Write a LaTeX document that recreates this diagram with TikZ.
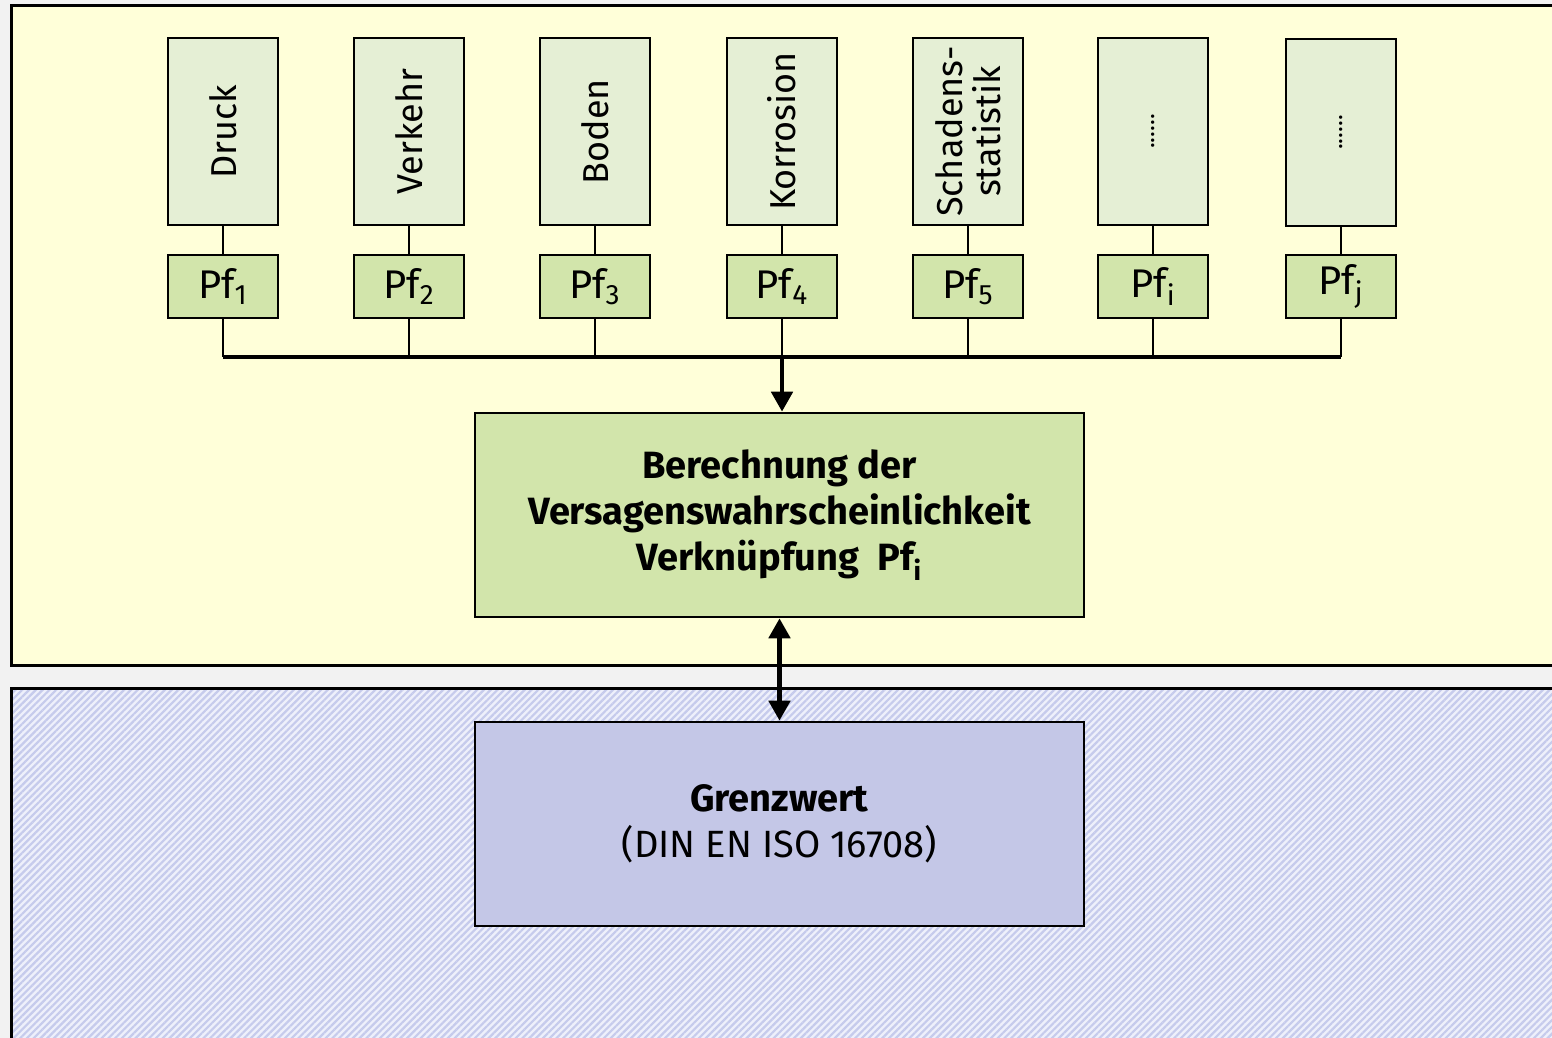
\documentclass[tikz,border=0pt]{standalone}
\usepackage{fontspec}
\setmainfont{Fira Sans}
\newfontfamily\lightfont{Fira Sans}
\usetikzlibrary{arrows.meta,patterns.meta}

\definecolor{pagegray}{HTML}{F2F2F2}
\definecolor{panelyellow}{HTML}{FFFFD9}
\definecolor{sourcegreen}{HTML}{E5EFD5}
\definecolor{pfgreen}{HTML}{D2E5AB}
\definecolor{limitblue}{HTML}{C4C7E7}
\definecolor{hatchblue}{HTML}{C6CBEC}
\definecolor{hatchwhite}{HTML}{EEF0FB}

\tikzset{
  % rotated node: width runs along the text
  source/.style={draw, line width=1.3pt, fill=sourcegreen, inner sep=0pt,
    minimum width=93.5pt, minimum height=55pt, rotate=90,
    font=\lightfont\fontsize{18}{19}\selectfont, align=center},
  pfbox/.style={draw, line width=1.3pt, fill=pfgreen, inner sep=0pt,
    minimum width=55pt, minimum height=31.5pt,
    font=\lightfont\fontsize{20}{22}\selectfont},
  bigbox/.style={draw, line width=1.3pt, inner sep=0pt,
    minimum width=304.5pt, minimum height=102pt, align=center},
  fatarrow/.style={line width=2.4pt, -{Triangle[length=10pt,width=10.5pt]}},
}

\begin{document}
\begin{tikzpicture}[x=0.5pt, y=-0.5pt]
\useasboundingbox (0,0) rectangle (1552,1038);
\clip (0,0) rectangle (1552,1038);
\fill[pagegray] (0,0) rectangle (1552,1038);

% upper panel
\draw[line width=1.5pt, fill=panelyellow] (11,6) rectangle (1570,665);

% lower panel, hatched
\fill[hatchwhite] (11,688) rectangle (1570,1060);
\fill[pattern={Lines[angle=45, distance=2.4pt, line width=1.1pt]}, pattern color=hatchblue]
  (11,688) rectangle (1570,1060);
\draw[line width=1.5pt] (11,1060) -- (11,688) -- (1570,688);

% influences (text rotated)
\node[source] (Q1) at (223,131.5) {Druck};
\node[source] (Q2) at (409,131.5) {Verkehr};
\node[source] (Q3) at (595,131.5) {Boden};
\node[source] (Q4) at (782,131.5) {Korrosion};
\node[source] (Q5) at (968,131.5) {Schadens-\\statistik};
\node[source, font=\lightfont\fontsize{12}{13}\selectfont] (Q6) at (1153,131.5) {......};
\node[source, font=\lightfont\fontsize{12}{13}\selectfont] (Q7) at (1341,132.5) {......};

% failure probabilities
\node[pfbox] (P1) at (223,286.5) {Pf\textsubscript{1}};
\node[pfbox] (P2) at (409,286.5) {Pf\textsubscript{2}};
\node[pfbox] (P3) at (595,286.5) {Pf\textsubscript{3}};
\node[pfbox] (P4) at (782,286.5) {Pf\textsubscript{4}};
\node[pfbox] (P5) at (968,286.5) {Pf\textsubscript{5}};
\node[pfbox] (P6) at (1153,286.5) {Pf\textsubscript{i}};
\node[pfbox] (P7) at (1341,286.5) {Pf\textsubscript{j}};

\draw[line width=0.8pt] (Q1) -- (P1);
\draw[line width=0.8pt] (Q2) -- (P2);
\draw[line width=0.8pt] (Q3) -- (P3);
\draw[line width=0.8pt] (Q4) -- (P4);
\draw[line width=0.8pt] (Q5) -- (P5);
\draw[line width=0.8pt] (Q6) -- (P6);
\draw[line width=0.8pt] (Q7) -- (P7);

% collecting bus
\coordinate (B1) at (223,357);
\coordinate (B2) at (409,357);
\coordinate (B3) at (595,357);
\coordinate (B4) at (782,357);
\coordinate (B5) at (968,357);
\coordinate (B6) at (1153,357);
\coordinate (B7) at (1341,357);
\draw[line width=1.4pt] (P1) -- (B1);
\draw[line width=1.4pt] (P2) -- (B2);
\draw[line width=1.4pt] (P3) -- (B3);
\draw[line width=1.4pt] (P4) -- (B4);
\draw[line width=1.4pt] (P5) -- (B5);
\draw[line width=1.4pt] (P6) -- (B6);
\draw[line width=1.4pt] (P7) -- (B7);
\draw[line width=2.4pt] (B1) -- (B7);

\node[bigbox, fill=pfgreen, font=\bfseries\fontsize{19}{23}\selectfont] (calc) at (779.5,515)
  {Berechnung der\\Versagenswahrscheinlichkeit\\Verknüpfung\ \ Pf\textsubscript{i}};
\node[bigbox, fill=limitblue, font=\fontsize{19}{23}\selectfont] (limit) at (779.5,824)
  {\textbf{Grenzwert}\\{\lightfont(DIN EN ISO 16708)}};

\draw[fatarrow] (B4) -- (B4 |- calc.north);
\draw[fatarrow, {Triangle[length=10pt,width=10.5pt]}-{Triangle[length=10pt,width=10.5pt]}]
  (calc.south) -- (limit.north);
\end{tikzpicture}
\end{document}
